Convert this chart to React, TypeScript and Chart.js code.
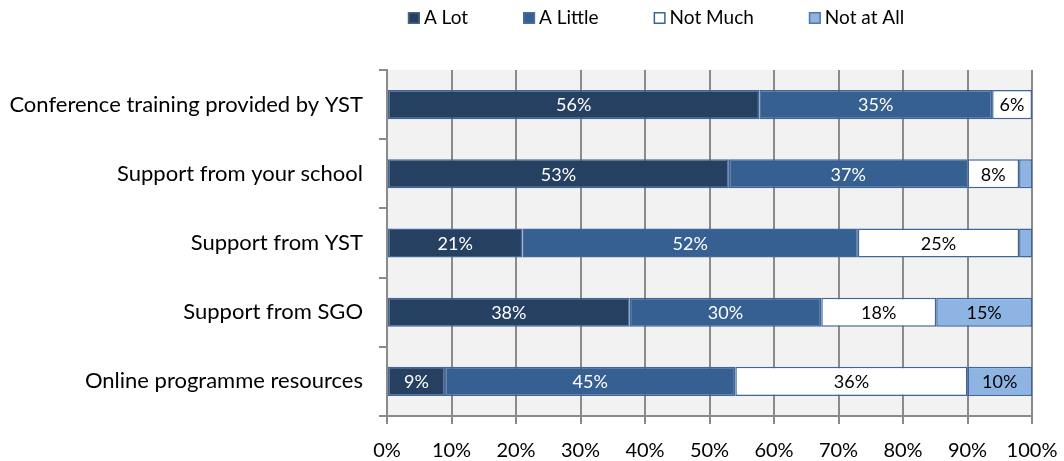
import React, { useEffect, useRef } from "react";
import { Chart, registerables } from "chart.js";

Chart.register(...registerables);

const categories = [
  "Conference training provided by YST",
  "Support from your school",
  "Support from YST",
  "Support from SGO",
  "Online programme resources",
];
const seriesNames = ["A Lot", "A Little", "Not Much", "Not at All"];
const aLot = [56, 53, 21, 38, 9];
const aLittle = [35, 37, 52, 30, 45];
const notMuch = [6, 8, 25, 18, 36];
const notAtAll = [0, 2, 2, 15, 10];
const xTickValues = [0, 10, 20, 30, 40, 50, 60, 70, 80, 90, 100];

const fillColors = ["#254061", "#376092", "#FFFFFF", "#8EB4E3"];
const labelColors = ["#FFFFFF", "#FFFFFF", "#000000", "#000000"];
const legendBorders = ["#4D6584", "#4D6F9E", "#3B6396", "#5578A8"];
const FONT = "Lato, 'Open Sans', sans-serif";

export default function App() {
  const ref = useRef<HTMLCanvasElement | null>(null);

  useEffect(() => {
    document.body.style.margin = "0";
    const canvas = ref.current;
    if (!canvas) return;
    const raw = [aLot, aLittle, notMuch, notAtAll];
    const totals = categories.map((_, i) => raw.reduce((s, arr) => s + arr[i], 0));

    const bgPlugin = {
      id: "plotBg",
      beforeDraw(chart: any) {
        const { ctx, chartArea } = chart;
        ctx.save();
        ctx.fillStyle = "#F2F2F2";
        ctx.fillRect(chartArea.left, chartArea.top, chartArea.right - chartArea.left, chartArea.bottom - chartArea.top);
        ctx.restore();
      },
    };

    const labelPlugin = {
      id: "segLabels",
      afterDatasetsDraw(chart: any) {
        const { ctx } = chart;
        ctx.save();
        ctx.font = `18px ${FONT}`;
        ctx.textAlign = "center";
        ctx.textBaseline = "middle";
        chart.data.datasets.forEach((ds: any, di: number) => {
          const meta = chart.getDatasetMeta(di);
          meta.data.forEach((el: any, i: number) => {
            const v = ds.rawValues[i];
            if (v < 5) return;
            const p = el.getProps(["x", "y", "base"], true);
            ctx.fillStyle = labelColors[di];
            ctx.fillText(v + "%", (p.x + p.base) / 2, p.y + 1);
          });
        });
        ctx.restore();
      },
    };

    const legendPlugin = {
      id: "customLegend",
      afterDraw(chart: any) {
        const { ctx } = chart;
        ctx.save();
        ctx.font = `19px ${FONT}`;
        const box = 12;
        const textGap = 4;
        const itemGap = 55;
        const widths = chart.data.datasets.map((d: any) => box + textGap + ctx.measureText(d.label).width);
        const total = widths.reduce((a: number, b: number) => a + b, 0) + itemGap * (widths.length - 1);
        let x = 656 - total / 2;
        const y = 18;
        chart.data.datasets.forEach((d: any, i: number) => {
          ctx.fillStyle = d.backgroundColor;
          ctx.fillRect(x, y - box / 2, box, box);
          ctx.strokeStyle = legendBorders[i];
          ctx.lineWidth = 1.5;
          ctx.strokeRect(x + 0.75, y - box / 2 + 0.75, box - 1.5, box - 1.5);
          ctx.fillStyle = "#000000";
          ctx.textBaseline = "middle";
          ctx.textAlign = "left";
          ctx.fillText(d.label, x + box + textGap, y);
          x += widths[i] + itemGap;
        });
        ctx.restore();
      },
    };

    const chart = new Chart(canvas, {
      type: "bar",
      data: {
        labels: categories,
        datasets: seriesNames.map((name, si) => ({
          label: name,
          data: raw[si].map((v, i) => (v / totals[i]) * 100),
          rawValues: raw[si],
          backgroundColor: fillColors[si],
          borderColor: "#40669A",
          borderWidth: 1.5,
          borderSkipped: false,
          barPercentage: 0.42,
          categoryPercentage: 1,
        })) as any,
      },
      options: {
        indexAxis: "y",
        animation: false,
        responsive: false,
        devicePixelRatio: 1,
        layout: { padding: { top: 70, right: 32, left: 0, bottom: 0 } },
        plugins: {
          legend: { display: false },
          tooltip: { enabled: false },
        },
        scales: {
          x: {
            stacked: true,
            min: 0,
            max: 100,
            afterBuildTicks(scale: any) {
              scale.ticks = xTickValues.map((v) => ({ value: v }));
            },
            afterFit(scale: any) {
              scale.height = 45;
              scale.paddingLeft = 0;
              scale.paddingRight = 0;
            },
            ticks: {
              callback: (v: any) => v + "%",
              color: "#000000",
              font: { family: FONT, size: 20 },
              padding: 15,
              maxRotation: 0,
              autoSkip: false,
            },
            grid: { color: "#8A8A8A", lineWidth: 2, tickLength: 8, drawOnChartArea: true },
            border: { color: "#8A8A8A", width: 2 },
          },
          y: {
            stacked: true,
            afterFit(scale: any) {
              scale.width = 387;
              scale.paddingTop = 0;
              scale.paddingBottom = 0;
            },
            ticks: {
              color: "#000000",
              font: { family: FONT, size: 22 },
              padding: 16,
              autoSkip: false,
            },
            grid: { color: "#8A8A8A", lineWidth: 2, tickLength: 8, drawOnChartArea: false, offset: true },
            border: { color: "#8A8A8A", width: 2 },
          },
        },
      } as any,
      plugins: [bgPlugin, labelPlugin, legendPlugin],
    });
    return () => chart.destroy();
  }, []);

  return (
    <div style={{ width: 1064, height: 461 }}>
      <canvas ref={ref} width={1064} height={461} style={{ display: "block" }} />
    </div>
  );
}
